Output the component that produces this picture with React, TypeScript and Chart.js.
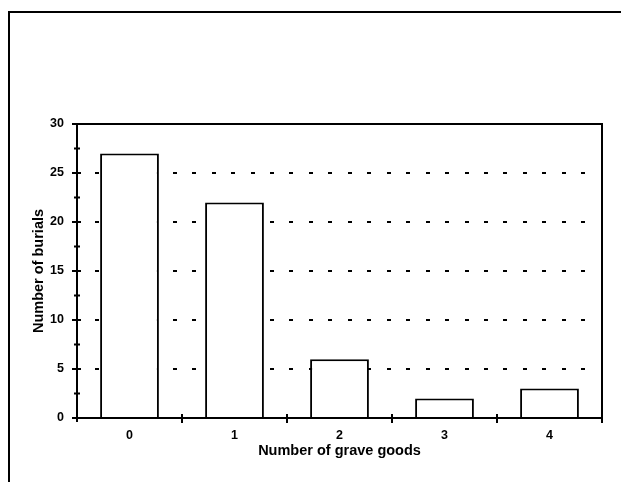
import React, { useEffect, useRef } from "react";
import { Chart, registerables } from "chart.js";

Chart.register(...registerables);

const categories = ["0", "1", "2", "3", "4"];
const burials = [27, 22, 6, 2, 3];
const yTickValues = [0, 5, 10, 15, 20, 25, 30];
const xTitle = "Number of grave goods";
const yTitle = "Number of burials";

const FONT = '"Liberation Sans", Arial, Helvetica, sans-serif';

const decor = {
  id: "decor",
  beforeDatasetsDraw(chart: any) {
    const { ctx, chartArea: a, scales } = chart;
    const y = scales.y;
    ctx.save();
    ctx.fillStyle = "#000";
    for (const v of yTickValues) {
      if (v === yTickValues[0] || v === yTickValues[yTickValues.length - 1]) continue;
      const py = Math.round(y.getPixelForValue(v));
      for (let x = a.left + 18; x + 4 <= a.right - 10; x += 19.45) {
        ctx.fillRect(Math.round(x), py - 1, 4, 2);
      }
    }
    ctx.restore();
  },
  afterDatasetsDraw(chart: any) {
    const { ctx, chartArea: a, scales } = chart;
    const x = scales.x;
    const y = scales.y;
    ctx.save();
    ctx.strokeStyle = "#000";
    ctx.lineWidth = 2;
    ctx.strokeRect(a.left, a.top, a.right - a.left, a.bottom - a.top);
    ctx.beginPath();
    for (const v of yTickValues) {
      const py = y.getPixelForValue(v);
      ctx.moveTo(a.left - 5, py);
      ctx.lineTo(a.left + 4, py);
    }
    for (let i = 0; i < yTickValues.length - 1; i++) {
      const v = (yTickValues[i] + yTickValues[i + 1]) / 2;
      const py = y.getPixelForValue(v);
      ctx.moveTo(a.left - 3, py);
      ctx.lineTo(a.left + 3, py);
    }
    const half = (x.getPixelForValue(1) - x.getPixelForValue(0)) / 2;
    for (let i = 0; i < categories.length; i++) {
      const px = x.getPixelForValue(i) + half;
      ctx.moveTo(px, a.bottom - 4);
      ctx.lineTo(px, a.bottom + 5);
    }
    ctx.moveTo(a.left, a.bottom);
    ctx.lineTo(a.left, a.bottom + 4);
    ctx.stroke();
    // outer page frame (top and left edges)
    ctx.beginPath();
    ctx.moveTo(8, 12);
    ctx.lineTo(621, 12);
    ctx.moveTo(9, 12);
    ctx.lineTo(9, 482);
    ctx.stroke();
    ctx.restore();
  },
};

export default function App() {
  const ref = useRef<HTMLCanvasElement | null>(null);
  useEffect(() => {
    if (!ref.current) return;
    const chart = new Chart(ref.current, {
      type: "bar",
      data: {
        labels: categories,
        datasets: [
          {
            data: burials,
            backgroundColor: "#fff",
            borderColor: "#000",
            borderWidth: 2,
            barPercentage: 0.56,
            categoryPercentage: 1,
          },
        ],
      },
      options: {
        responsive: false,
        animation: false,
        devicePixelRatio: 1,
        layout: { padding: { left: 20, right: 25, top: 124, bottom: 23 } },
        plugins: { legend: { display: false }, tooltip: { enabled: false } },
        scales: {
          x: {
            grid: { display: false, drawTicks: false },
            border: { display: false },
            ticks: { padding: 10, color: "#000", font: { family: FONT, size: 12.5, weight: "bold" } },
            title: {
              display: true,
              text: xTitle,
              color: "#000",
              font: { family: FONT, size: 14.5, weight: "bold" },
              padding: { top: 0, bottom: 8 },
            },
            afterFit(s: any) {
              s.height = 50;
            },
          },
          y: {
            min: 0,
            max: 30,
            grid: { display: false, drawTicks: false },
            border: { display: false },
            ticks: { stepSize: 5, padding: 13, color: "#000", font: { family: FONT, size: 12.5, weight: "bold" } },
            title: {
              display: true,
              text: yTitle,
              color: "#000",
              font: { family: FONT, size: 14.5, weight: "bold" },
              padding: { top: 10, bottom: 0 },
            },
            afterFit(s: any) {
              s.width = 57;
            },
          },
        },
      },
      plugins: [decor],
    });
    return () => chart.destroy();
  }, []);
  return (
    <div style={{ position: "fixed", left: 0, top: 0, width: 627, height: 491, background: "#fff" }}>
      <canvas ref={ref} width={627} height={491} style={{ width: 627, height: 491, display: "block" }} />
    </div>
  );
}
